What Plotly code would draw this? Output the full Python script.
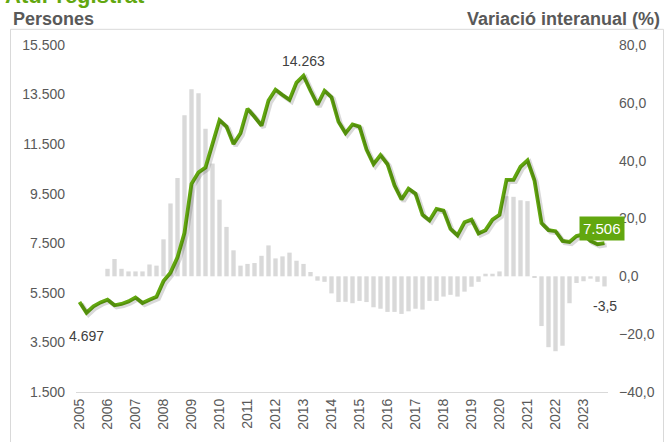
import plotly.graph_objects as go

years = [str(y) for y in range(2005, 2024)]
quarters = ["T1", "T2", "T3", "T4"]
periods = [f"{y} {q}" for y in years for q in quarters]

# Persones (atur registrat), trimestral 2005T1-2023T4
persones = [
    5131, 4697, 4957, 5116,
    5222, 4997, 5052, 5155,
    5313, 5090, 5222, 5341,
    5973, 6317, 6934, 7922,
    9899, 10361, 10559, 11480,
    12468, 12207, 11507, 11942,
    12930, 12602, 12246, 13259,
    13694, 13484, 13286, 13986,
    14263, 13654, 13089, 13654,
    13393, 12405, 11942, 12298,
    12207, 11282, 10689, 11061,
    10689, 9835, 9266, 9701,
    9503, 8649, 8424, 8886,
    8819, 8080, 7819, 8345,
    8452, 7899, 8029, 8452,
    8649, 10057, 10057, 10586,
    10848, 10030, 8318, 8029,
    7989, 7594, 7555, 7791,
    7858, 7594, 7463, 7506,
]

# Variació interanual (%), 2006T1-2023T4
variacio = [
    2.6, 6.0, 2.6, 1.7,
    1.7, 1.7, 4.1, 3.7,
    12.8, 25.2, 34.0, 55.7,
    64.7, 63.3, 51.0, 39.0,
    26.5, 17.1, 9.0, 3.7,
    4.3, 4.6, 7.1, 10.7,
    6.2, 6.9, 8.2, 5.4,
    4.3, 1.5, -1.5, -1.9,
    -5.9, -8.9, -8.8, -9.3,
    -8.5, -8.9, -10.7, -11.2,
    -12.3, -12.3, -13.0, -12.1,
    -11.2, -11.5, -8.5, -8.5,
    -7.0, -6.4, -7.0, -5.3,
    -3.6, -1.9, 0.9, 0.9,
    1.7, 27.7, 27.5, 26.3,
    26.0, -0.3, -17.2, -24.5,
    -25.9, -24.0, -9.3, -2.3,
    -1.7, -0.8, -1.9, -3.5,
]

left_ticks = list(range(1500, 15501, 2000))
right_ticks = list(range(-40, 81, 20))

GREEN = "#62A70F"
GREY_TXT = "#595959"
FONT = "Liberation Sans, Arial, sans-serif"

n = len(persones)
idx = list(range(n))
bar_idx = idx[4:]

fig = go.Figure()

fig.add_trace(go.Bar(
    x=bar_idx, y=variacio, xaxis="x", yaxis="y",
    marker=dict(color="#D9D9D9", line=dict(width=0)),
    width=0.62, hoverinfo="skip", name="Variació interanual (%)",
))

# soft shadow of the line (same data, slightly offset overlay axes)
fig.add_trace(go.Scatter(
    x=idx, y=persones, xaxis="x2", yaxis="y2", mode="lines",
    line=dict(color="rgba(0,0,0,0.15)", width=4.5),
    hoverinfo="skip", showlegend=False,
))

fig.add_trace(go.Scatter(
    x=idx, y=persones, xaxis="x", yaxis="y3", mode="lines",
    line=dict(color=GREEN, width=3.8),
    name="Persones",
))

fig.update_layout(
    width=668, height=442,
    margin=dict(l=76, r=60, t=45, b=43),
    paper_bgcolor="white", plot_bgcolor="white",
    showlegend=False,
    separators=",.",
    font=dict(family=FONT, size=14, color=GREY_TXT),
    xaxis=dict(
        range=[-0.5, n - 0.5], tickmode="array",
        tickvals=[i * 4 for i in range(len(years))], ticktext=years,
        tickangle=-90, showgrid=False, zeroline=False,
        showline=True, linecolor="#D9D9D9", linewidth=1,
        ticks="", tickfont=dict(size=14, color=GREY_TXT),
    ),
    xaxis2=dict(
        overlaying="x", range=[-0.5 - 0.3, n - 0.5 - 0.3], visible=False,
    ),
    yaxis=dict(
        side="right", range=[-40, 80], tickmode="array", tickvals=right_ticks,
        tickformat=".1f", showgrid=False, zeroline=False, showline=False,
        ticks="", tickfont=dict(size=14, color=GREY_TXT), ticklabelstandoff=10,
    ),
    yaxis2=dict(
        overlaying="y", range=[1500 + 75, 15500 + 75], visible=False,
    ),
    yaxis3=dict(
        overlaying="y", side="left", range=[1500, 15500], tickmode="array",
        tickvals=left_ticks, tickformat=",.0f", showgrid=False, zeroline=False,
        showline=False, ticks="", tickfont=dict(size=14, color=GREY_TXT),
        ticklabelstandoff=10,
    ),
)

ann = []
ann.append(dict(x=32, y=persones[32], xref="x", yref="y3", text="14.263",
                showarrow=False, yshift=15, font=dict(size=14, color="#404040")))
ann.append(dict(x=1, y=persones[1], xref="x", yref="y3", text="4.697",
                showarrow=False, yshift=-23, font=dict(size=14, color="#404040")))
ann.append(dict(x=75, y=persones[75], xref="x", yref="y3", text="7.506",
                showarrow=False, yshift=15, xshift=-3, bgcolor=GREEN, borderpad=3,
                font=dict(size=15, color="white")))
ann.append(dict(x=75, y=variacio[-1], xref="x", yref="y", text="-3,5",
                showarrow=False, yshift=-20, font=dict(size=14, color="#404040")))
ann.append(dict(x=-0.1231, y=1.076, xref="paper", yref="paper", text="<b>Persones</b>",
                showarrow=False, xanchor="left", yanchor="middle",
                font=dict(size=18, color=GREY_TXT)))
ann.append(dict(x=1.1024, y=1.076, xref="paper", yref="paper",
                text="<b>Variació interanual (%)</b>", showarrow=False,
                xanchor="right", yanchor="middle", font=dict(size=18, color=GREY_TXT)))
ann.append(dict(x=-0.138, y=1.144, xref="paper", yref="paper",
                text="<b>Atur registrat</b>", showarrow=False,
                xanchor="left", yanchor="middle", font=dict(size=22, color=GREEN)))
fig.update_layout(annotations=ann)

fig.add_shape(type="rect", xref="paper", yref="paper",
              x0=-0.1231, x1=1.1043, y0=-0.2, y1=1.0452,
              line=dict(color="#D9D9D9", width=1), fillcolor="rgba(0,0,0,0)",
              layer="below")

fig.write_html("out.html", config={"displayModeBar": False},
               post_script="document.body.style.margin='0';document.body.style.padding='0';")
